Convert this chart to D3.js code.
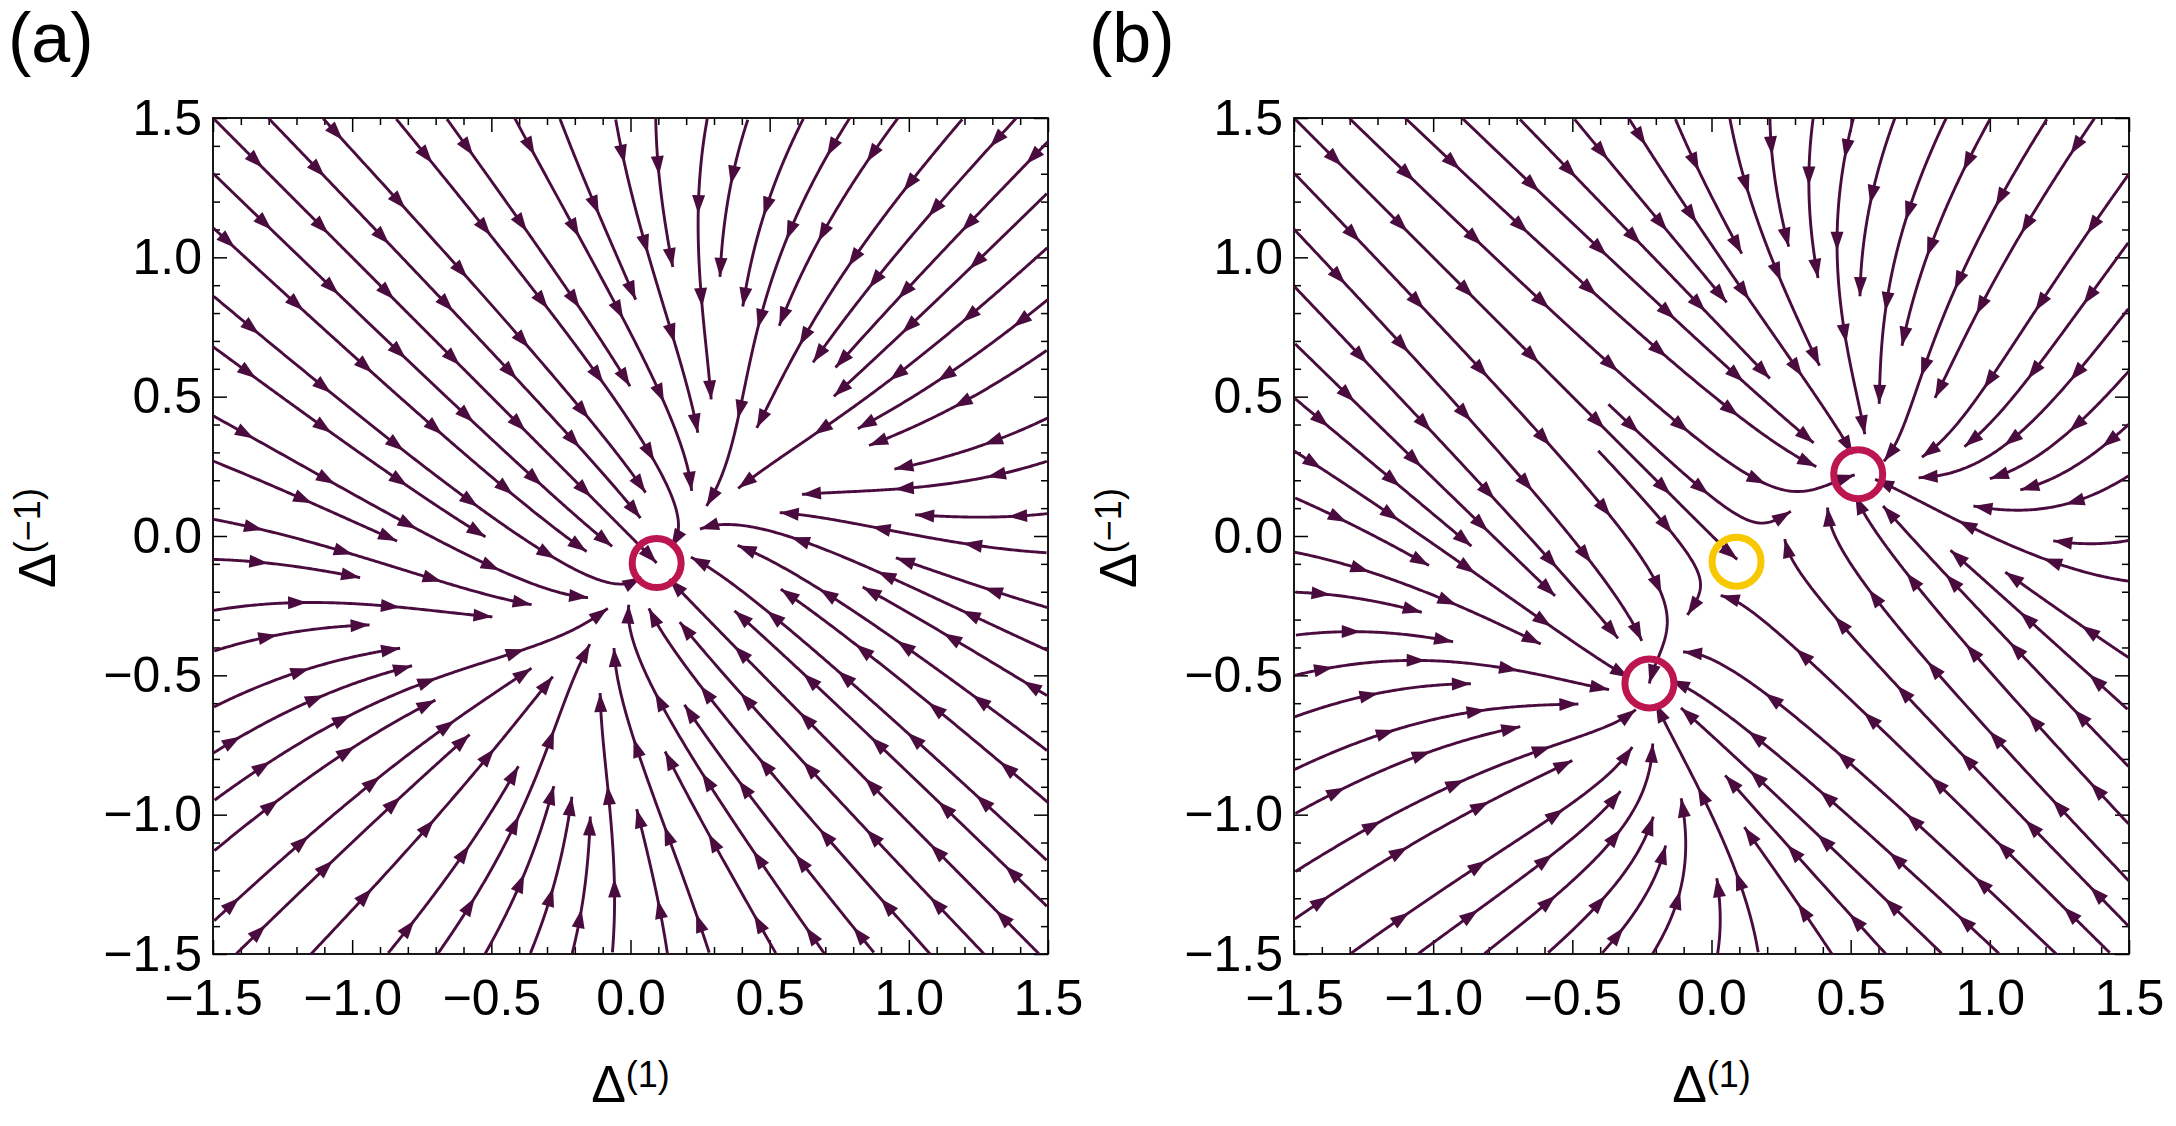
<!DOCTYPE html>
<html>
<head>
<meta charset="utf-8">
<script src="https://cdn.jsdelivr.net/npm/d3@7"></script>
<style>
body { margin: 0; background: #fff; }
text { font-family: "Liberation Sans", Arial, sans-serif; }
</style>
</head>
<body>
<svg id="chart" width="2176" height="1126"></svg>
<script>

// axis range and tick labels
var domainX = [-1.5, 1.5];
var domainY = [-1.5, 1.5];
var majorTicks = [-1.5, -1.0, -0.5, 0.0, 0.5, 1.0, 1.5];
var panelLabels = ["(a)", "(b)"];
var xLabelSup = "(1)";
var yLabelSup = "(\u22121)";

// fixed points
var stableA = [[0.094, -0.097]];
var stableB = [[0.527, 0.222], [-0.223, -0.529]];
var saddleB = [[0.090, -0.092]];

// rates along the diagonal / across it : [mu, g, k]
var ratesA = [-0.35, 0.8, 1.4];
var ratesB = [null, 1.0, 1.0];

var lineColor = "#4a0c3e";
var stableColor = "#bd1550";
var saddleColor = "#f8c800";

var svg = d3.select("#chart");
var fmt = d3.format(".1f");
var plotTop = 118, plotBottom = 954, plotSize = 835;
var lefts = [213, 1294];

var minorTicks = d3.range(-15, 16).filter(function(i) { return i % 5 != 0; })
                   .map(function(i) { return i / 10; });

// vector field: p along (1,1), q along (1,-1)
function makeField(center, node, rates) {
	var s = Math.SQRT1_2;
	var p0 = (center[0] + center[1]) * s, q0 = (center[0] - center[1]) * s;
	var g = rates[1], k = rates[2], mu, e;
	if (node) {
		var P = (node[0] + node[1]) * s - p0;
		mu = g * P * P;
		e = ((node[0] - node[1]) * s - q0) / (P * P);
	} else {
		mu = rates[0];
		e = 0;
	}
	return function(x, y) {
		var P = (x + y) * s - p0, q = (x - y) * s;
		var dp = P * (mu - g * P * P);
		var dq = -k * (q - q0 - e * P * P);
		return [(dp + dq) * s, (dp - dq) * s];
	};
}

// evenly spaced streamlines (Jobard-Lefer), in pixel space
function traceStreams(field, x, y, sinks) {
	var x0 = x.range()[0], x1 = x.range()[1];
	var yt = y.range()[1], yb = y.range()[0];
	var dsep = 39, dtest = 20, h = 2;
	var sx = (x1 - x0) / (domainX[1] - domainX[0]);
	var sy = (yb - yt) / (domainY[1] - domainY[0]);
	var cols = Math.ceil((x1 - x0) / dsep) + 1, rows = Math.ceil((yb - yt) / dsep) + 1;
	var grid = [];
	for (var i = 0; i < cols * rows; i++) grid.push([]);
	var sinkPx = sinks.map(function(s) { return [x(s[0]), y(s[1])]; });

	function free(p, d) {
		var ci = Math.floor((p[0] - x0) / dsep), cj = Math.floor((p[1] - yt) / dsep);
		for (var i = ci - 1; i <= ci + 1; i++)
			for (var j = cj - 1; j <= cj + 1; j++) {
				if (i < 0 || j < 0 || i >= cols || j >= rows) continue;
				var pts = grid[j * cols + i];
				for (var m = 0; m < pts.length; m++) {
					var dx = pts[m][0] - p[0], dy = pts[m][1] - p[1];
					if (dx * dx + dy * dy < d * d) return false;
				}
			}
		return true;
	}
	function unit(p, sign) {
		var v = field(x.invert(p[0]), y.invert(p[1]));
		var vx = v[0] * sx * sign, vy = -v[1] * sy * sign;
		var n = Math.hypot(vx, vy);
		return n < 1e-12 ? null : [vx / n, vy / n, n];
	}
	function rk(p, sign) {
		var k1 = unit(p, sign); if (!k1) return null;
		var k2 = unit([p[0] + k1[0] * h / 2, p[1] + k1[1] * h / 2], sign); if (!k2) return null;
		var k3 = unit([p[0] + k2[0] * h / 2, p[1] + k2[1] * h / 2], sign); if (!k3) return null;
		var k4 = unit([p[0] + k3[0] * h, p[1] + k3[1] * h], sign); if (!k4) return null;
		return {
			p: [p[0] + h * (k1[0] + 2 * k2[0] + 2 * k3[0] + k4[0]) / 6,
			    p[1] + h * (k1[1] + 2 * k2[1] + 2 * k3[1] + k4[1]) / 6],
			speed: k1[2]
		};
	}
	function half(seed, sign) {
		var out = [], p = seed;
		for (var n = 0; n < 3000; n++) {
			var r = rk(p, sign);
			if (!r || r.speed < 2) break;
			var q = r.p;
			if (q[0] < x0 || q[0] > x1 || q[1] < yt || q[1] > yb) break;
			if (!free(q, dtest)) break;
			var hit = null;
			sinkPx.forEach(function(s) { if (Math.hypot(q[0] - s[0], q[1] - s[1]) < 3) hit = s; });
			if (hit) { out.push(hit.slice()); break; }
			out.push(q);
			p = q;
		}
		return out;
	}

	var lines = [], queue = [];
	function tryseed(s) {
		if (s[0] < x0 || s[0] > x1 || s[1] < yt || s[1] > yb) return;
		if (!free(s, dsep * 0.98)) return;
		var back = half(s, -1).reverse(), fwd = half(s, 1);
		var L = back.concat([s], fwd);
		if (L.length < 8) return;
		L.forEach(function(p) {
			var ci = Math.min(cols - 1, Math.max(0, Math.floor((p[0] - x0) / dsep)));
			var cj = Math.min(rows - 1, Math.max(0, Math.floor((p[1] - yt) / dsep)));
			grid[cj * cols + ci].push(p);
		});
		lines.push(L);
		queue.push(L);
	}
	for (var j = 0; j < rows; j++)
		for (var i = 0; i < cols; i++) {
			tryseed([x0 + (i + 0.5) * dsep, yt + (j + 0.5) * dsep]);
			while (queue.length) {
				var L = queue.shift();
				for (var m = 1; m < L.length - 1; m += 4) {
					var tx = L[m + 1][0] - L[m - 1][0], ty = L[m + 1][1] - L[m - 1][1];
					var tn = Math.hypot(tx, ty) || 1;
					var nx = -ty / tn, ny = tx / tn;
					tryseed([L[m][0] + nx * dsep, L[m][1] + ny * dsep]);
					tryseed([L[m][0] - nx * dsep, L[m][1] - ny * dsep]);
				}
			}
		}

	// arrowheads spaced along each line, counted back from its end
	var arrows = [];
	lines.forEach(function(L) {
		var cum = [0];
		for (var m = 1; m < L.length; m++)
			cum.push(cum[m - 1] + Math.hypot(L[m][0] - L[m - 1][0], L[m][1] - L[m - 1][1]));
		var total = cum[cum.length - 1];
		var m = L.length - 1;
		for (var s = total; s > 22; s -= 93) {
			while (m > 1 && cum[m - 1] > s) m--;
			var a = L[m - 1], b = L[m];
			var f = (s - cum[m - 1]) / ((cum[m] - cum[m - 1]) || 1);
			var tip = [a[0] + (b[0] - a[0]) * f, a[1] + (b[1] - a[1]) * f];
			var back = L[Math.max(0, m - 5)];
			var ang = Math.atan2(tip[1] - back[1], tip[0] - back[0]) * 180 / Math.PI;
			arrows.push({ at: [x.invert(tip[0]), y.invert(tip[1])], angle: ang });
		}
	});

	return {
		lines: lines.map(function(L) { return L.map(function(p) { return [x.invert(p[0]), y.invert(p[1])]; }); }),
		arrows: arrows
	};
}

var panels = [
	{ label: panelLabels[0], left: lefts[0], field: makeField(stableA[0], null, ratesA), stable: stableA, saddle: [] },
	{ label: panelLabels[1], left: lefts[1], field: makeField(saddleB[0], stableB[0], ratesB), stable: stableB, saddle: saddleB }
];

panels.forEach(function(pn) {
	var x = d3.scaleLinear().domain(domainX).range([pn.left, pn.left + plotSize]);
	var y = d3.scaleLinear().domain(domainY).range([plotBottom, plotTop]);
	var g = svg.append("g");

	// frame and ticks
	g.append("rect")
		.attr("x", pn.left).attr("y", plotTop)
		.attr("width", plotSize).attr("height", plotBottom - plotTop)
		.attr("fill", "none").attr("stroke", "#000").attr("stroke-width", 1.8);

	function axisSet(axisFn, tr, major, size, label, pad) {
		var horiz = (axisFn === d3.axisBottom || axisFn === d3.axisTop);
		var ax = axisFn(horiz ? x : y)
			.tickValues(major ? majorTicks : minorTicks)
			.tickSizeInner(-size).tickSizeOuter(0)
			.tickPadding(pad || 0)
			.tickFormat(label ? fmt : function() { return ""; });
		var a = g.append("g").attr("transform", tr).call(ax);
		a.select(".domain").remove();
		a.selectAll(".tick line").attr("stroke", "#000").attr("stroke-width", 1.5);
		a.selectAll(".tick text")
			.attr("fill", "#000")
			.style("font-family", "'Liberation Sans', Arial, sans-serif")
			.style("font-size", "50px");
	}
	axisSet(d3.axisBottom, "translate(0," + plotBottom + ")", true, 14, true, 25);
	axisSet(d3.axisBottom, "translate(0," + plotBottom + ")", false, 7, false);
	axisSet(d3.axisTop, "translate(0," + plotTop + ")", true, 14, false);
	axisSet(d3.axisTop, "translate(0," + plotTop + ")", false, 7, false);
	axisSet(d3.axisLeft, "translate(" + pn.left + ",0)", true, 14, true, 11);
	axisSet(d3.axisLeft, "translate(" + pn.left + ",0)", false, 7, false);
	axisSet(d3.axisRight, "translate(" + (pn.left + plotSize) + ",0)", true, 14, false);
	axisSet(d3.axisRight, "translate(" + (pn.left + plotSize) + ",0)", false, 7, false);

	// streamlines
	var st = traceStreams(pn.field, x, y, pn.stable);
	var line = d3.line().x(function(d) { return x(d[0]); }).y(function(d) { return y(d[1]); });
	g.append("g").selectAll("path")
		.data(st.lines)
		.enter().append("path")
		.attr("d", line)
		.attr("fill", "none")
		.attr("stroke", lineColor)
		.attr("stroke-width", 2.9)
		.attr("stroke-linejoin", "round");
	g.append("g").selectAll("path")
		.data(st.arrows)
		.enter().append("path")
		.attr("d", "M0,0L-19,-6.5L-19,6.5Z")
		.attr("transform", function(d) { return "translate(" + x(d.at[0]) + "," + y(d.at[1]) + ") rotate(" + d.angle + ")"; })
		.attr("fill", lineColor);

	// fixed points
	g.selectAll("circle.stable")
		.data(pn.stable)
		.enter().append("circle")
		.attr("class", "stable")
		.attr("cx", function(d) { return x(d[0]); })
		.attr("cy", function(d) { return y(d[1]); })
		.attr("r", 24.5)
		.attr("fill", "none")
		.attr("stroke", stableColor)
		.attr("stroke-width", 7);
	g.selectAll("circle.saddle")
		.data(pn.saddle)
		.enter().append("circle")
		.attr("class", "saddle")
		.attr("cx", function(d) { return x(d[0]); })
		.attr("cy", function(d) { return y(d[1]); })
		.attr("r", 24.5)
		.attr("fill", "none")
		.attr("stroke", saddleColor)
		.attr("stroke-width", 7);

	// labels
	g.append("text")
		.attr("x", pn.left - 205).attr("y", 62)
		.attr("font-size", "70px")
		.text(pn.label);

	var xl = g.append("text")
		.attr("x", pn.left + plotSize / 2).attr("y", 1102)
		.attr("text-anchor", "middle")
		.attr("font-size", "52px");
	xl.append("tspan").text("\u0394");
	xl.append("tspan").attr("dy", -15).attr("font-size", "36px").text(xLabelSup);

	var yl = g.append("text")
		.attr("transform", "translate(" + (pn.left - 158) + "," + ((plotTop + plotBottom) / 2 + 2) + ") rotate(-90)")
		.attr("text-anchor", "middle")
		.attr("font-size", "52px");
	yl.append("tspan").text("\u0394");
	yl.append("tspan").attr("dy", -15).attr("font-size", "36px").text(yLabelSup);
});

</script>
</body>
</html>
